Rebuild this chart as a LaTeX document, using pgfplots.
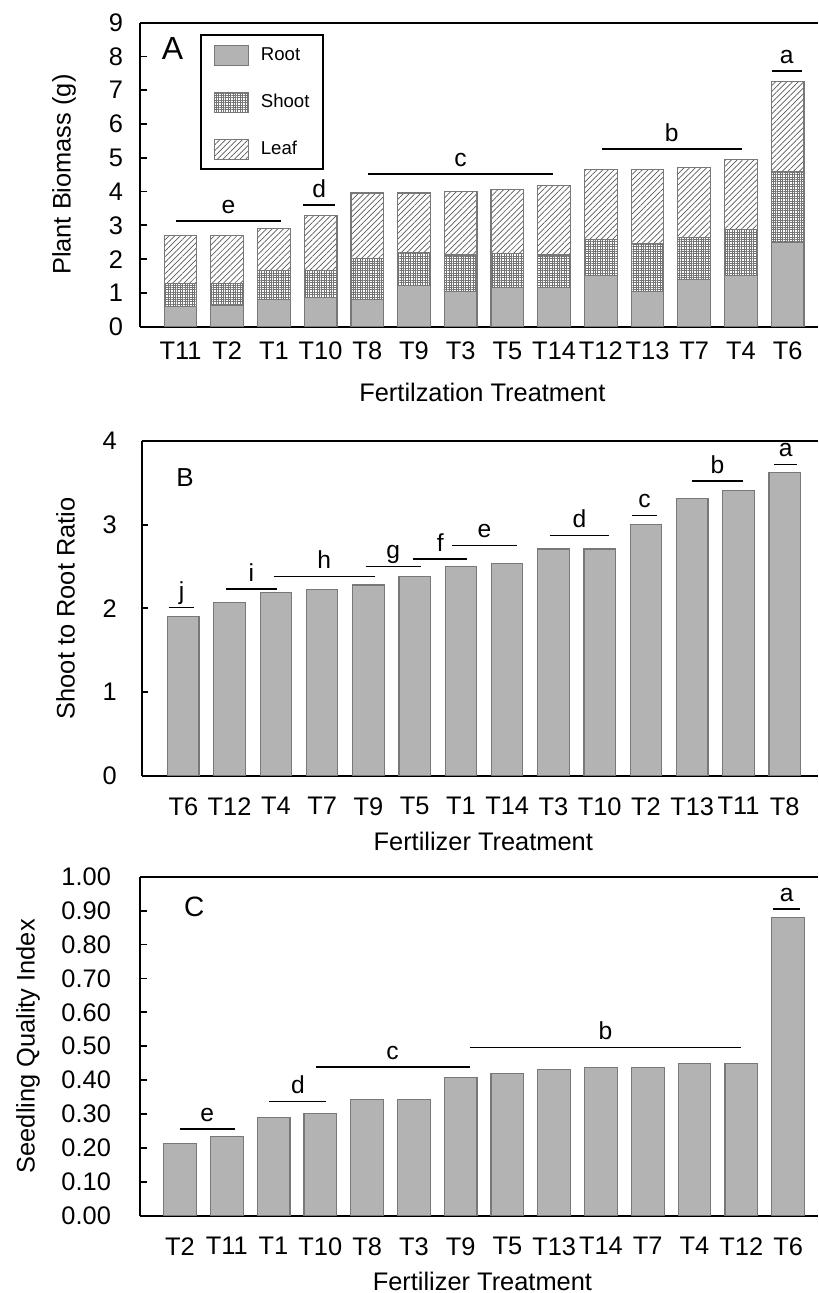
\documentclass[border=0pt]{standalone}
\usepackage{pgfplots}
\pgfplotsset{compat=1.18}
\usetikzlibrary{patterns.meta}
\usepackage{fontspec}
\setmainfont{Liberation Sans}
\definecolor{barfill}{RGB}{179,179,179}
\definecolor{baredge}{RGB}{120,120,120}
\newcommand{\tfont}{\fontsize{12.7}{14}\selectfont}
\newcommand{\sfont}{\fontsize{12.3}{14}\selectfont}
\newcommand{\sig}[4]{\draw[line width=0.9pt] (axis cs:#1,#3) -- (axis cs:#2,#3) node[midway, anchor=base, yshift=3.8pt, font=\sfont, inner sep=0pt] {#4};}
\pgfplotsset{myax/.style={
  scale only axis, anchor=north west, clip=false,
  axis x line=box, axis y line=left,
  axis line style={-, line width=0.9pt, black},
  x axis line style={-}, y axis line style={-},
  tick align=inside, major tick length=3.3pt,
  ytick style={line width=0.9pt, black},
  xtick style={draw=none},
  tick label style={font=\tfont},
  label style={font=\tfont},
  /pgf/number format/assume math mode=true,
  xticklabel style={yshift=-4pt},
  yticklabel style={xshift=-5pt},
  xtick={0,...,13},
  bar width=0.7,
}}
\begin{document}
\begin{tikzpicture}
\useasboundingbox (0,0) rectangle (409pt,-646.5pt);
% ---------------- Panel A
\begin{axis}[myax, at={(70pt,-11.35pt)}, width=339pt, height=152pt,
  xmin=-0.867, xmax=13.65, ymin=0, ymax=9, ytick={0,...,9},
  xticklabels={T11,T2,T1,T10,T8,T9,T3,T5,T14,T12,T13,T7,T4,T6},
  ybar stacked,
  xlabel={Fertilzation Treatment}, ylabel={Plant Biomass (g)},
  xlabel style={at={(axis description cs:0.505,-0.2148)}, anchor=center},
  ylabel style={at={(axis description cs:-0.1121,0.5)}, anchor=center},
  legend image code/.code={\draw[#1] (0pt,-5pt) rectangle (17pt,5pt);},
  legend cell align=left,
  legend style={at={(axis description cs:0.0885,0.9628)}, anchor=north west,
    draw=black, line width=0.9pt, inner xsep=6.6pt, inner ysep=4.8pt,
    row sep=12.9pt, font=\fontsize{9.3}{10}\selectfont,
    nodes={inner sep=0pt},
    /tikz/every odd column/.style={column sep=5.8pt}},
]
\addplot[fill=barfill, draw=baredge, line width=0.6pt] coordinates {
(0,0.59) (1,0.64) (2,0.81) (3,0.87) (4,0.81) (5,1.22) (6,1.03)
(7,1.15) (8,1.15) (9,1.51) (10,1.03) (11,1.40) (12,1.51) (13,2.50)};
\addplot[pattern={Hatch[angle=0,distance=1.2pt,line width=0.3pt]}, pattern color=black!55, draw=baredge, line width=0.6pt] coordinates {
(0,0.69) (1,0.64) (2,0.85) (3,0.79) (4,1.20) (5,0.97) (6,1.09)
(7,1.02) (8,0.97) (9,1.08) (10,1.44) (11,1.25) (12,1.37) (13,2.09)};
\addplot[pattern={Lines[angle=45,distance=2.0pt,line width=0.35pt]}, pattern color=black!65, draw=baredge, line width=0.6pt] coordinates {
(0,1.43) (1,1.43) (2,1.24) (3,1.64) (4,1.95) (5,1.77) (6,1.89)
(7,1.90) (8,2.07) (9,2.07) (10,2.19) (11,2.07) (12,2.07) (13,2.68)};
\legend{Root,Shoot,Leaf}
\node[font=\fontsize{16}{18}\selectfont] at (axis description cs:0.048,0.916) {A};
\sig{-0.10}{2.15}{3.14}{e}
\sig{2.63}{3.31}{3.60}{d}
\sig{4.01}{7.98}{4.51}{c}
\sig{9.02}{12.02}{5.26}{b}
\sig{12.66}{13.30}{7.57}{a}
\end{axis}
% ---------------- Panel B
\begin{axis}[myax, at={(70.85pt,-220.5pt)}, width=338.15pt, height=167.35pt,
  xmin=-0.9, xmax=13.72, ymin=0, ymax=4, ytick={0,...,4},
  xticklabels={T6,T12,T4,T7,T9,T5,T1,T14,T3,T10,T2,T13,T11,T8},
  ybar, bar width=0.68,
  yticklabel style={xshift=-4pt},
  xlabel={Fertilizer Treatment}, ylabel={Shoot to Root Ratio},
  xlabel style={at={(axis description cs:0.505,-0.195)}, anchor=center},
  ylabel style={at={(axis description cs:-0.1127,0.5)}, anchor=center},
]
\addplot[fill=barfill, draw=baredge, line width=0.6pt] coordinates {
(0,1.90) (1,2.07) (2,2.19) (3,2.23) (4,2.28) (5,2.38) (6,2.50)
(7,2.54) (8,2.71) (9,2.71) (10,3.00) (11,3.31) (12,3.41) (13,3.62)};
\node[font=\fontsize{13}{15}\selectfont] at (axis description cs:0.064,0.891) {B};
\sig{-0.30}{0.22}{2.01}{j}
\sig{0.92}{2.02}{2.23}{i}
\sig{1.95}{4.14}{2.38}{h}
\sig{3.94}{5.13}{2.50}{g}
\sig{4.97}{6.14}{2.59}{f}
\sig{5.80}{7.22}{2.75}{e}
\sig{7.92}{9.21}{2.87}{d}
\sig{9.69}{10.25}{3.11}{c}
\sig{10.99}{12.10}{3.52}{b}
\sig{12.77}{13.27}{3.72}{a}
\end{axis}
% ---------------- Panel C
\begin{axis}[myax, at={(70pt,-438.35pt)}, width=339pt, height=169.5pt,
  xmin=-0.855, xmax=13.64, ymin=0, ymax=1, ytick={0,0.1,...,1.0},
  yticklabel style={/pgf/number format/fixed, /pgf/number format/fixed zerofill, /pgf/number format/precision=2, xshift=-6pt},
  xticklabels={T2,T11,T1,T10,T8,T3,T9,T5,T13,T14,T7,T4,T12,T6},
  ybar,
  xlabel={Fertilizer Treatment}, ylabel={Seedling Quality Index},
  xlabel style={at={(axis description cs:0.505,-0.1926)}, anchor=center},
  ylabel style={at={(axis description cs:-0.165,0.5)}, anchor=center},
]
\addplot[fill=barfill, draw=baredge, line width=0.6pt] coordinates {
(0,0.214) (1,0.233) (2,0.290) (3,0.302) (4,0.343) (5,0.343) (6,0.408)
(7,0.420) (8,0.432) (9,0.438) (10,0.438) (11,0.450) (12,0.450) (13,0.880)};
\node[font=\fontsize{14}{16}\selectfont] at (axis description cs:0.080,0.9115) {C};
\sig{-0.01}{1.17}{0.255}{e}
\sig{1.91}{3.13}{0.337}{d}
\sig{2.90}{6.19}{0.438}{c}
\sig{6.19}{12.00}{0.496}{b}
\sig{12.68}{13.26}{0.904}{a}
\end{axis}
\end{tikzpicture}
\end{document}
